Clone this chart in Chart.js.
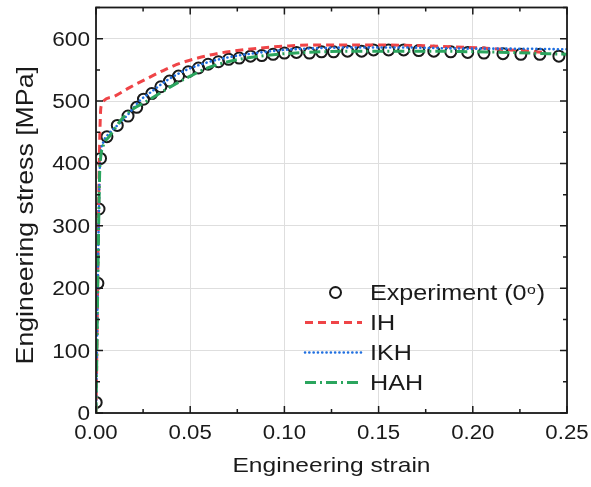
<!DOCTYPE html>
<html>
<head>
<meta charset="utf-8">
<script src="https://cdn.jsdelivr.net/npm/chart.js@4.4.0/dist/chart.umd.min.js"></script>
<style>
  html, body { margin: 0; padding: 0; background: #fff; }
</style>
</head>
<body>
<canvas id="ssChart" width="591" height="487"></canvas>
<script>
// Experimental stress-strain points (0 deg specimen)
const expStrain = [0.0001, 0.001, 0.0016, 0.0024, 0.0058, 0.0113, 0.017, 0.0216, 0.0252, 0.0296,
  0.0344, 0.039, 0.0438, 0.049, 0.0544, 0.0595, 0.065, 0.0704, 0.076, 0.082, 0.088, 0.094, 0.1,
  0.1064, 0.1133, 0.1197, 0.1261, 0.1335, 0.141, 0.1473, 0.1553, 0.1633, 0.1713, 0.1793, 0.1883,
  0.1973, 0.2059, 0.216, 0.2255, 0.2356, 0.2457];
const expStress = [17, 208, 327, 408, 443, 461, 476, 490, 503, 512,
  523, 532, 540, 547, 553, 559, 563, 567, 569, 572, 573, 575, 577,
  578, 577, 579, 579, 580, 580, 582, 582, 582, 581, 580, 579,
  578, 577, 576, 575, 575, 572];

// Isotropic hardening
const ihStrain = [0, 0.0024, 0.003, 0.004, 0.01, 0.018, 0.027, 0.037, 0.045, 0.054, 0.064, 0.075,
  0.087, 0.1, 0.115, 0.13, 0.15, 0.17, 0.19, 0.205, 0.22, 0.238];
const ihStress = [0, 482, 494, 500, 508, 522, 536, 551, 561, 569, 576, 581,
  585, 588, 590, 590, 590, 589, 587, 585, 582, 578];

// Isotropic-kinematic hardening
const ikhStrain = [0, 0.0019, 0.0025, 0.004, 0.007, 0.012, 0.018, 0.023, 0.029, 0.038, 0.048,
  0.058, 0.07, 0.085, 0.1, 0.12, 0.14, 0.16, 0.18, 0.2, 0.22, 0.25];
const ikhStress = [0, 380, 415, 435, 448, 463, 482, 500, 514, 534, 550,
  561, 570, 577, 582, 585, 586, 586, 585, 584, 584, 583];

// Homogeneous anisotropic hardening
const hahStrain = [0, 0.0019, 0.0025, 0.004, 0.007, 0.0145, 0.02, 0.026, 0.039, 0.05, 0.06, 0.07,
  0.08, 0.09, 0.1, 0.12, 0.14, 0.16, 0.18, 0.2, 0.22, 0.24, 0.25];
const hahStress = [0, 380, 410, 430, 443, 474, 488, 498, 522, 540, 554, 563,
  569, 573, 576, 579, 580, 580, 580, 579, 578, 576, 575];

const xTickValues = [0, 0.05, 0.1, 0.15, 0.2, 0.25];
const xTickLabels = ["0.00", "0.05", "0.10", "0.15", "0.20", "0.25"];
const yTickValues = [0, 100, 200, 300, 400, 500, 600];
const yTickLabels = ["0", "100", "200", "300", "400", "500", "600"];

const xTitle = "Engineering strain";
const yTitle = "Engineering stress [MPa]";

const RED = "#ef4447";
const BLUE = "#1f6fe0";
const GREEN = "#2ba55e";
const INK = "#1a1a1a";
const FONT = "'Liberation Sans', Arial, sans-serif";

const toPoints = (xs, ys) => xs.map((x, i) => ({ x, y: ys[i] }));

// text drawn slightly widened, the way the figure's font sits
function wideText(ctx, text, x, y, align, size, sx) {
  ctx.save();
  ctx.translate(x, y);
  ctx.scale(sx, 1);
  ctx.font = size + "px " + FONT;
  ctx.textAlign = align;
  ctx.textBaseline = "alphabetic";
  ctx.fillText(text, 0, 0);
  ctx.restore();
}

// Frame with inward major/minor ticks on all four sides
const frameTicks = {
  id: "frameTicks",
  afterDraw(chart) {
    const { ctx, chartArea: a, scales } = chart;
    const sx = scales.x, sy = scales.y;
    ctx.save();
    ctx.strokeStyle = INK;
    ctx.lineWidth = 1.5;
    ctx.beginPath();
    for (let i = 0; i <= 10; i++) {
      const px = sx.getPixelForValue(i * 0.025);
      const len = i % 2 === 0 ? 7 : 4;
      ctx.moveTo(px, a.bottom); ctx.lineTo(px, a.bottom - len);
      ctx.moveTo(px, a.top); ctx.lineTo(px, a.top + len);
    }
    for (let i = 0; i <= 13; i++) {
      const py = sy.getPixelForValue(i * 50);
      const len = i % 2 === 0 ? 7 : 4;
      ctx.moveTo(a.left, py); ctx.lineTo(a.left + len, py);
      ctx.moveTo(a.right, py); ctx.lineTo(a.right - len, py);
    }
    ctx.stroke();
    ctx.lineWidth = 1.8;
    ctx.strokeRect(a.left, a.top, a.right - a.left, a.bottom - a.top);
    ctx.restore();
  },
};

// Tick labels and axis titles
const axisText = {
  id: "axisText",
  afterDraw(chart) {
    const { ctx, chartArea: a, scales } = chart;
    ctx.save();
    ctx.fillStyle = INK;
    xTickValues.forEach((v, i) => {
      wideText(ctx, xTickLabels[i], scales.x.getPixelForValue(v), a.bottom + 26, "center", 19.5, 1.14);
    });
    yTickValues.forEach((v, i) => {
      wideText(ctx, yTickLabels[i], a.left - 6, scales.y.getPixelForValue(v) + 7, "right", 19.5, 1.16);
    });
    wideText(ctx, xTitle, (a.left + a.right) / 2, a.bottom + 59, "center", 21, 1.17);

    ctx.save();
    ctx.translate(a.left - 63, (a.top + a.bottom) / 2 + 5);
    ctx.rotate(-Math.PI / 2);
    wideText(ctx, yTitle, 0, 0, "center", 24.5, 1.09);
    ctx.restore();
    ctx.restore();
  },
};

// Legend drawn inside the plot, lower right
const innerLegend = {
  id: "innerLegend",
  afterDraw(chart) {
    const { ctx, chartArea: a } = chart;
    const x0 = a.left + 209, x1 = a.left + 266, tx = a.left + 274;
    const rows = [a.top + 285, a.top + 315, a.top + 345, a.top + 375];
    const size = 21.5, sx = 1.17;
    ctx.save();
    ctx.fillStyle = INK;

    ctx.lineWidth = 2;
    ctx.strokeStyle = INK;
    ctx.beginPath();
    ctx.arc((x0 + x1) / 2 + 2, rows[0], 5.5, 0, Math.PI * 2);
    ctx.stroke();

    const head = "Experiment (0";
    ctx.font = size + "px " + FONT;
    const w = ctx.measureText(head).width * sx;
    wideText(ctx, head, tx, rows[0] + 7.5, "left", size, sx);
    ctx.font = "13.5px " + FONT;
    const ow = ctx.measureText("o").width * sx;
    wideText(ctx, "o", tx + w + 0.5, rows[0] + 1, "left", 13.5, sx);
    wideText(ctx, ")", tx + w + ow + 1.5, rows[0] + 7.5, "left", size, sx);

    const lines = [
      { label: "IH", color: RED, dash: [8, 5], width: 3, cap: "butt" },
      { label: "IKH", color: BLUE, dash: [0.1, 4.2], width: 2.6, cap: "round" },
      { label: "HAH", color: GREEN, dash: [11, 4, 2, 4], width: 3, cap: "butt" },
    ];
    lines.forEach((l, i) => {
      const yy = rows[i + 1];
      ctx.save();
      ctx.strokeStyle = l.color;
      ctx.lineWidth = l.width;
      ctx.lineCap = l.cap;
      ctx.setLineDash(l.dash);
      ctx.beginPath();
      ctx.moveTo(x0, yy);
      ctx.lineTo(x1, yy);
      ctx.stroke();
      ctx.restore();
      wideText(ctx, l.label, tx, yy + 7.5, "left", size, sx);
    });
    ctx.restore();
  },
};

const simLine = (label, xs, ys, color, dash, width, cap, order) => ({
  label,
  data: toPoints(xs, ys),
  showLine: true,
  borderColor: color,
  borderWidth: width,
  borderDash: dash,
  borderCapStyle: cap,
  pointRadius: 0,
  cubicInterpolationMode: "monotone",
  order,
});

new Chart(document.getElementById("ssChart"), {
  type: "scatter",
  data: {
    datasets: [
      {
        label: "Experiment (0o)",
        data: toPoints(expStrain, expStress),
        pointStyle: "circle",
        pointRadius: 5.5,
        pointBorderWidth: 2,
        pointBorderColor: INK,
        pointBackgroundColor: "rgba(0,0,0,0)",
        order: 4,
      },
      simLine("IH", ihStrain, ihStress, RED, [8, 5], 3, "butt", 3),
      simLine("IKH", ikhStrain, ikhStress, BLUE, [0.1, 4.2], 2.6, "round", 2),
      simLine("HAH", hahStrain, hahStress, GREEN, [11, 4, 2, 4], 3, "butt", 1),
    ],
  },
  options: {
    responsive: false,
    animation: false,
    layout: { padding: { left: 0, right: 24, top: 7, bottom: 0 } },
    plugins: {
      legend: { display: false },
      tooltip: { enabled: false },
    },
    scales: {
      x: {
        type: "linear",
        min: 0,
        max: 0.25,
        afterFit: (s) => {
          s.height = 74;
          s.paddingLeft = 0;
          s.paddingRight = 0;
        },
        afterBuildTicks: (s) => { s.ticks = xTickValues.map((v) => ({ value: v })); },
        ticks: { display: false },
        grid: { color: "#dedede", lineWidth: 1, drawTicks: false },
        border: { display: false },
      },
      y: {
        min: 0,
        max: 650,
        afterFit: (s) => {
          s.width = 96;
          s.paddingTop = 0;
          s.paddingBottom = 0;
        },
        afterBuildTicks: (s) => { s.ticks = yTickValues.map((v) => ({ value: v })); },
        ticks: { display: false },
        grid: { color: "#dedede", lineWidth: 1, drawTicks: false },
        border: { display: false },
      },
    },
  },
  plugins: [frameTicks, axisText, innerLegend],
});
</script>
</body>
</html>
